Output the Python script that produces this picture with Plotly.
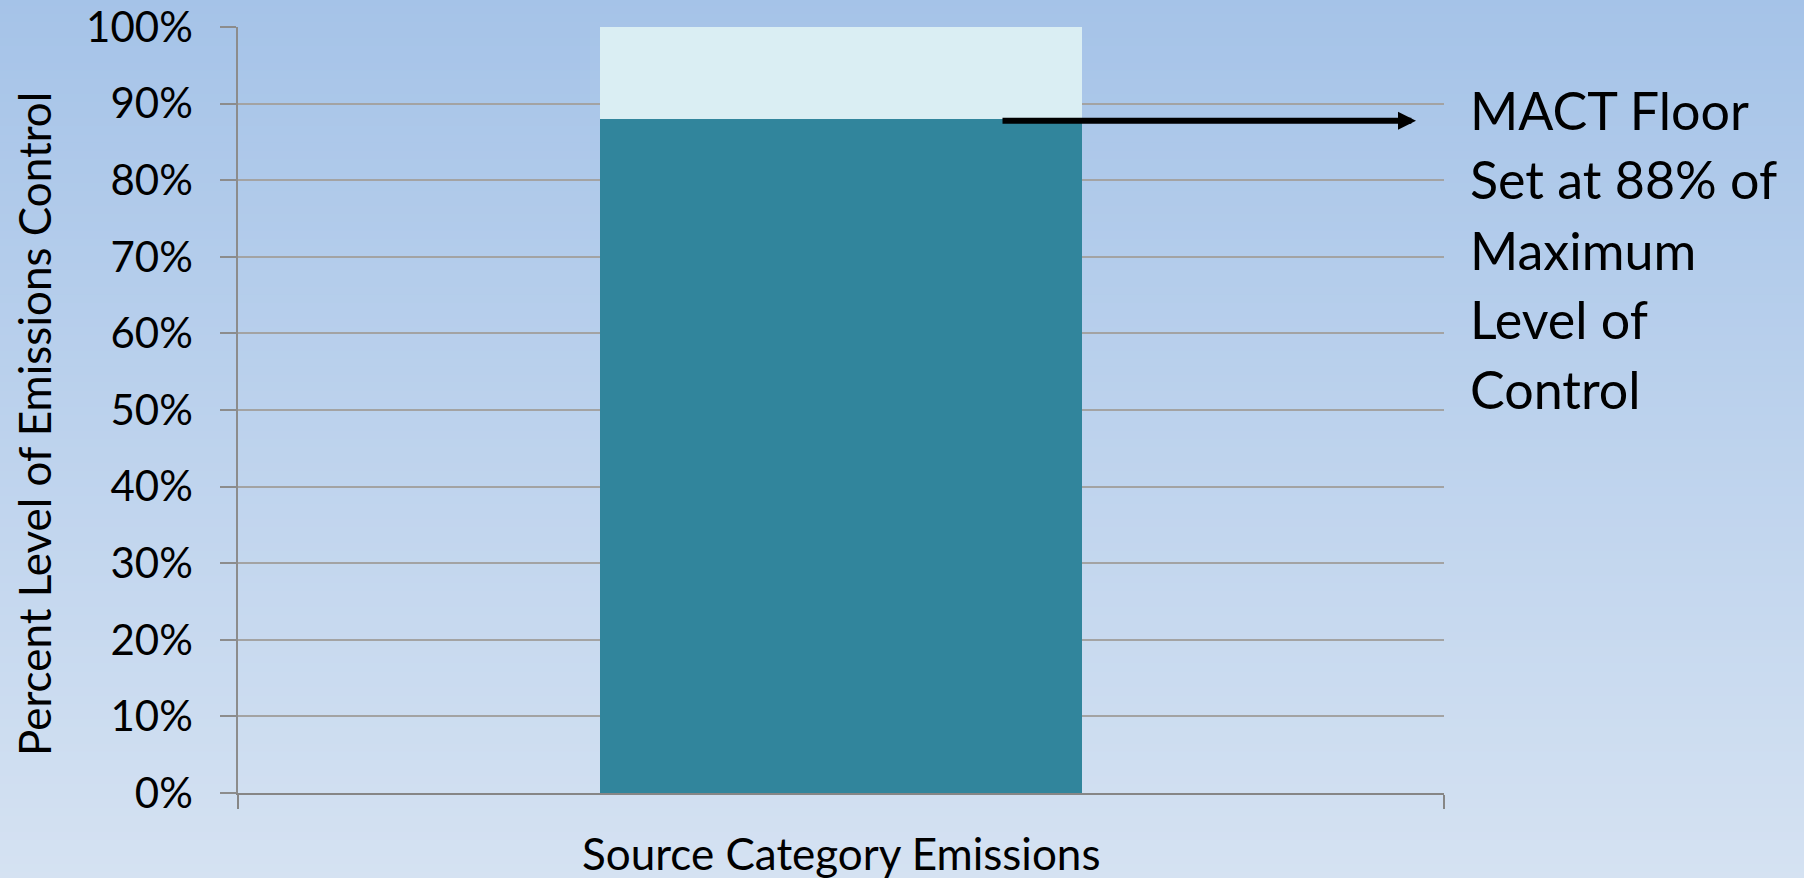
import plotly.graph_objects as go

# ---- data ----
categories = ["Source Category Emissions"]
mact_floor = [88]
remaining = [12]
y_ticks = [0, 10, 20, 30, 40, 50, 60, 70, 80, 90, 100]
y_tick_labels = ["0%", "10%", "20%", "30%", "40%", "50%", "60%", "70%", "80%", "90%", "100%"]
y_title = "Percent Level of Emissions Control"
x_title = "Source Category Emissions"
note_lines = ["MACT Floor", "Set at 88% of", "Maximum", "Level of", "Control"]

# ---- layout geometry ----
W, H = 1804, 878
ml, mr, mt, mb = 238, 360, 27, 85
pw = W - ml - mr
ph = H - mt - mb


def px_x(px):
    return (px - ml) / pw


def px_y(py):
    return 1 - (py - mt) / ph


FONT = "Lato"

fig = go.Figure()
fig.add_trace(go.Bar(x=categories, y=mact_floor, marker_color="#31859C",
                     marker_line_width=0, width=0.4, showlegend=False))
fig.add_trace(go.Bar(x=categories, y=remaining, marker_color="#DAEEF3",
                     marker_line_width=0, width=0.4, showlegend=False))

# background vertical gradient via stripes
top_c = (165, 195, 232)
bot_c = (213, 226, 242)
N = 110
shapes = []
y_bot = px_y(H + 2)
y_top = px_y(-2)
for i in range(N):
    t0 = i / N
    t1 = (i + 1) / N
    tm = (t0 + t1) / 2
    c = tuple(round(top_c[k] + (bot_c[k] - top_c[k]) * tm) for k in range(3))
    shapes.append(dict(
        type="rect", xref="paper", yref="paper", layer="below",
        x0=px_x(-2), x1=px_x(W + 2),
        y0=y_top - (y_top - y_bot) * t1 - 0.002, y1=y_top - (y_top - y_bot) * t0,
        fillcolor="rgb(%d,%d,%d)" % c, line_width=0,
    ))

annotations = [
    dict(text=y_title, textangle=-90, xref="paper", yref="paper",
         x=px_x(34), y=px_y(424), xanchor="center", yanchor="middle",
         showarrow=False, font=dict(family=FONT, size=44, color="black")),
    dict(text=x_title, xref="paper", yref="paper",
         x=0.5, y=px_y(853), xanchor="center", yanchor="middle",
         showarrow=False, font=dict(family=FONT, size=44, color="black")),
    dict(text="", xref="paper", yref="paper",
         x=px_x(1416), y=px_y(120.7), ax=-(1416 - 1001), ay=0,
         axref="pixel", ayref="pixel", showarrow=True,
         arrowhead=2, arrowwidth=6, arrowsize=0.6, arrowcolor="black"),
]

line_centers = [114, 183, 254, 323, 393]
for txt, cy in zip(note_lines, line_centers):
    annotations.append(dict(
        text=txt, xref="paper", yref="paper",
        x=px_x(1468), y=px_y(cy - 4), xanchor="left", yanchor="middle",
        align="left", showarrow=False,
        font=dict(family=FONT, size=52, color="black")))

fig.update_layout(
    width=W, height=H,
    margin=dict(l=ml, r=mr, t=mt, b=mb, pad=0, autoexpand=False),
    paper_bgcolor="rgba(0,0,0,0)",
    plot_bgcolor="rgba(0,0,0,0)",
    barmode="stack",
    shapes=shapes,
    annotations=annotations,
    font=dict(family=FONT, color="black"),
    xaxis=dict(
        type="category", range=[-0.5, 0.5], showticklabels=False,
        tickson="boundaries", ticks="outside", ticklen=14, tickwidth=2,
        tickcolor="#868686", showline=True, linecolor="#868686", linewidth=2,
        showgrid=False, zeroline=False, fixedrange=True, automargin=False,
    ),
    yaxis=dict(
        range=[0, 100], tickvals=y_ticks, ticktext=y_tick_labels,
        ticks="outside", ticklen=16, tickwidth=1.5, tickcolor="#8c8c8c",
        showline=True, linecolor="#8c8c8c", linewidth=1.5,
        showgrid=True, gridcolor="#a3a3a3", gridwidth=1.5, zeroline=False,
        tickfont=dict(family=FONT, size=42, color="black"),
        ticklabelstandoff=19, automargin=False,
    ),
)

fig.write_html("out.html")
